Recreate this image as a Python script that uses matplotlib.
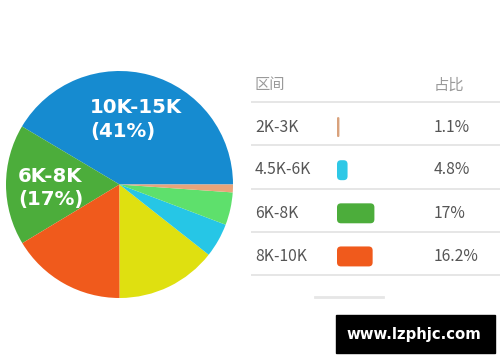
import matplotlib.pyplot as plt
from matplotlib.patches import FancyBboxPatch, Rectangle

plt.rcParams['font.family'] = ['Noto Sans CJK SC', 'DejaVu Sans']

# pie data (counter-clockwise from 3 o'clock); matplotlib normalises the sum
pie_labels = ['10K-15K', '6K-8K', '8K-10K', '3K-4.5K', '4.5K-6K', '15K+', '2K-3K']
pie_values = [41, 17, 16.2, 14.2, 4.8, 4.6, 1.1]
pie_colors = ['#168bd0', '#4cad3b', '#f05a1c', '#dfe010', '#26c6e6', '#5ee06c', '#e8a47a']

# table rows
row_labels = ['2K-3K', '4.5K-6K', '6K-8K', '8K-10K']
row_values = [1.1, 4.8, 17, 16.2]
row_text = ['1.1%', '4.8%', '17%', '16.2%']
row_colors = ['#d9a27c', '#2ec8e6', '#4cad3b', '#f05a1c']

W, H = 500, 362
fig = plt.figure(figsize=(W / 100, H / 100), dpi=100)
fig.patch.set_facecolor('white')


def box(x0, y0, x1, y1):
    # pixel box (top-left origin) -> figure fraction
    return [x0 / W, (H - y1) / H, (x1 - x0) / W, (y1 - y0) / H]


# pie
ax = fig.add_axes(box(6, 71, 233, 298))
ax.pie(pie_values, colors=pie_colors, startangle=0, counterclock=True,
       normalize=True, wedgeprops=dict(linewidth=0))
ax.set_xlim(-1, 1)
ax.set_ylim(-1, 1)
ax.axis('off')

lab = dict(color='white', fontsize=14.2, fontweight='bold', family='DejaVu Sans',
           ha='left', va='center', transform=ax.transAxes)
ax.text(84 / 227, 1 - (108 - 71) / 227, '10K-15K', **lab)
ax.text(84 / 227, 1 - (132 - 71) / 227, '(41%)', **lab)
ax.text(12 / 227, 1 - (176 - 71) / 227, '6K-8K', **lab)
ax.text(12 / 227, 1 - (199 - 71) / 227, '(17%)', **lab)

# table overlay in pixel units
tab = fig.add_axes([0, 0, 1, 1])
tab.set_xlim(0, W)
tab.set_ylim(H, 0)
tab.axis('off')

tab.text(255, 85, '区间', color='#9a9a9a', fontsize=11, va='center')
tab.text(434, 85, '占比', color='#9a9a9a', fontsize=11, va='center')
row_y = [127, 170, 213, 256.5]
for y in [102, 145, 188.5, 232, 275]:
    tab.plot([251, 500], [y, y], color='#e4e4e4', lw=1.3, solid_capstyle='butt')
for y, name, pct in zip(row_y, row_labels, row_text):
    tab.text(255, y, name, color='#555555', fontsize=11.3, va='center')
    tab.text(434, y, pct, color='#555555', fontsize=11.3, va='center')

# faint next row remnant
tab.plot([315, 383], [297, 297], color='#e6e6e6', lw=2)

# watermark
tab.add_patch(Rectangle((336, 315), 159, 38, color='black'))
tab.text(414, 334, 'www.lzphjc.com', color='white', fontsize=10.7,
         fontweight='bold', family='DejaVu Sans', ha='center', va='center')

# bars: x in percent, one row per unit
px_per_pct = 2.2
bx = fig.add_axes(box(337, 105.5, 500, 278))
bx.set_xlim(0, (500 - 337) / px_per_pct)
bx.set_ylim(3.5, -0.5)
bx.axis('off')
bar_h = 20 / 43.2
r_x = 4 / px_per_pct
aspect = (4 / 43.2) / r_x
for i, (v, c) in enumerate(zip(row_values, row_colors)):
    r = min(r_x, v / 2)
    bx.add_patch(FancyBboxPatch((0, i - bar_h / 2), v, bar_h,
                                boxstyle=f'round,pad=0,rounding_size={r}',
                                mutation_aspect=aspect, facecolor=c,
                                edgecolor='none'))

fig.savefig('out.png', dpi=100)
